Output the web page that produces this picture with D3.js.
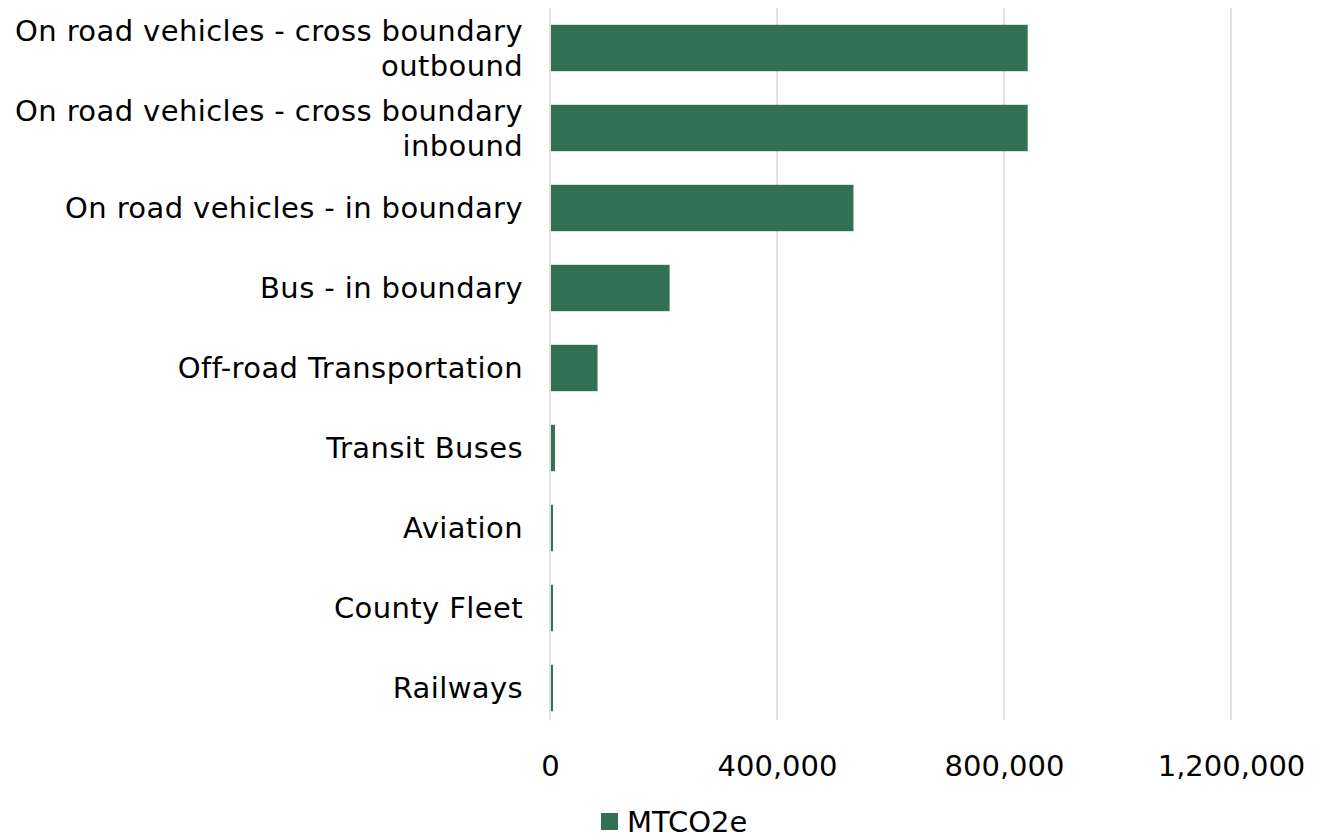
<!DOCTYPE html>
<html>
<head>
<meta charset="utf-8">
<script src="https://cdn.jsdelivr.net/npm/d3@7"></script>
<style>
  body { margin: 0; background: #fff; }
  text { font-family: "DejaVu Sans", Verdana, sans-serif; fill: #000; }
</style>
</head>
<body>
<div id="chart"></div>
<script>
var categories = [
  ["On road vehicles - cross boundary", "outbound"],
  ["On road vehicles - cross boundary", "inbound"],
  ["On road vehicles - in boundary"],
  ["Bus - in boundary"],
  ["Off-road Transportation"],
  ["Transit Buses"],
  ["Aviation"],
  ["County Fleet"],
  ["Railways"]
];
var values = [840000, 840000, 533000, 209000, 82000, 7000, 3500, 3500, 3500];
var xTicks = [0, 400000, 800000, 1200000];
var seriesName = "MTCO2e";

var svgWidth = 1335;
var svgHeight = 838;
var margin = { top: 8, right: 104, bottom: 118, left: 550 };
var width = svgWidth - margin.left - margin.right;
var height = svgHeight - margin.top - margin.bottom;
var barColor = "#327153";
var fontSize = "29px";

var svg = d3.select("#chart")
  .append("svg")
  .attr("width", svgWidth)
  .attr("height", svgHeight);

var chartGroup = svg.append("g")
  .attr("transform", `translate(${margin.left}, ${margin.top})`);

var xScale = d3.scaleLinear()
  .domain([0, 1200000])
  .range([0, 681]);

var yScale = d3.scaleBand()
  .domain(d3.range(categories.length))
  .range([0, 720])
  .paddingInner(0.42)
  .paddingOuter(0.21);

// gridlines
chartGroup.selectAll(".grid")
  .data(xTicks)
  .enter()
  .append("line")
  .attr("x1", d => xScale(d))
  .attr("x2", d => xScale(d))
  .attr("y1", 0)
  .attr("y2", height)
  .attr("stroke", "#d9d9d9")
  .attr("stroke-width", 1.5);

// bars
chartGroup.selectAll("rect")
  .data(values)
  .enter()
  .append("rect")
  .attr("x", xScale(0) + 1)
  .attr("y", (d, i) => yScale(i))
  .attr("width", d => xScale(d))
  .attr("height", yScale.bandwidth())
  .attr("fill", barColor);

// x axis labels
var xAxis = d3.axisBottom(xScale)
  .tickValues(xTicks)
  .tickSize(0)
  .tickPadding(35)
  .tickFormat(d3.format(","));

chartGroup.append("g")
  .attr("transform", `translate(0, ${height})`)
  .call(xAxis)
  .call(g => g.select(".domain").remove())
  .selectAll("text")
  .style("font-size", fontSize)
  .style("font-family", "DejaVu Sans, Verdana, sans-serif")
  .attr("fill", "#000");

// y category labels
var labels = chartGroup.selectAll(".cat")
  .data(categories)
  .enter()
  .append("text")
  .attr("class", "cat")
  .attr("text-anchor", "end")
  .style("font-size", fontSize)
  .style("letter-spacing", "0.4px")
  .attr("y", (d, i) => yScale(i) + yScale.bandwidth() / 2);

labels.selectAll("tspan")
  .data(d => d.map((t, j) => ({ t: t, j: j, n: d.length })))
  .enter()
  .append("tspan")
  .attr("x", -27)
  .attr("dy", (d) => d.j === 0 ? (d.n === 1 ? "0.35em" : "-0.25em") : "1.2em")
  .text(d => d.t);

// legend
var legend = svg.append("g")
  .attr("transform", "translate(601, 813)");
legend.append("rect")
  .attr("width", 17)
  .attr("height", 17)
  .attr("fill", barColor);
legend.append("text")
  .attr("x", 26)
  .attr("y", 9)
  .attr("dy", "0.35em")
  .style("font-size", fontSize)
  .text(seriesName);
</script>
</body>
</html>
